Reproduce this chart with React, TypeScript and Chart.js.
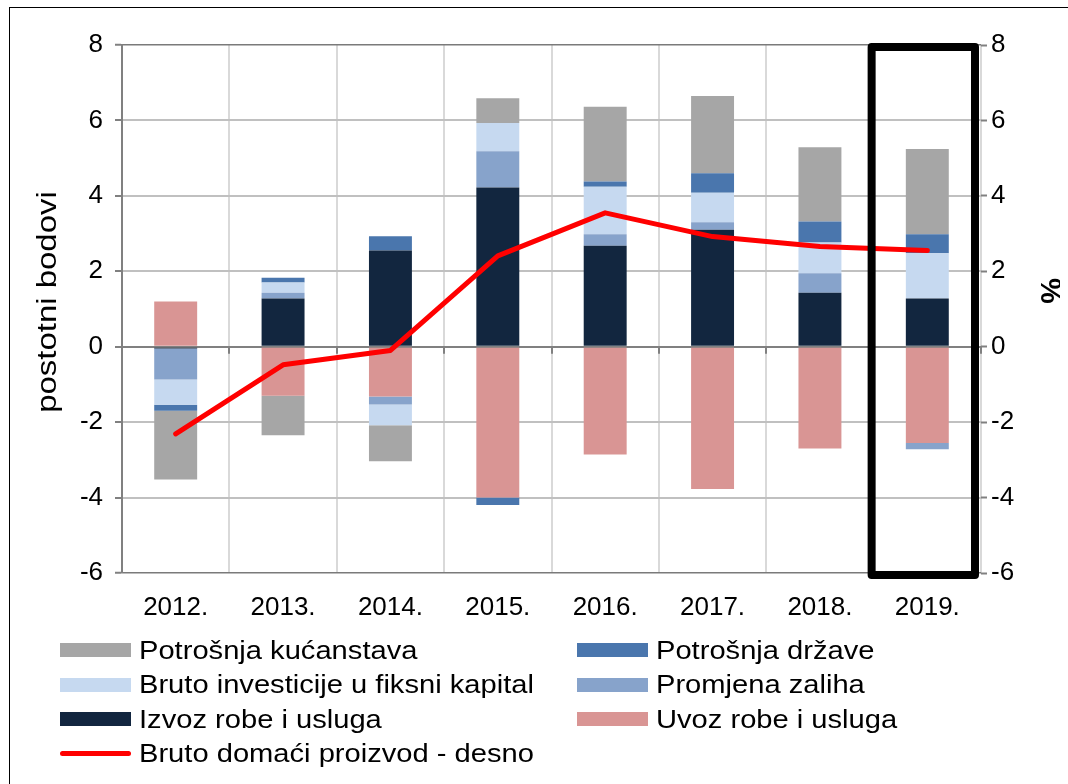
import React, { useEffect, useRef } from "react";
import { Chart, registerables } from "chart.js";

Chart.register(...registerables);

const years = ["2012.", "2013.", "2014.", "2015.", "2016.", "2017.", "2018.", "2019."];
// contributions, in percentage points (stacking order from zero outwards)
const izvoz = [-0.05, 1.28, 2.55, 4.22, 2.68, 3.1, 1.43, 1.28];
const uvoz = [1.2, -1.3, -1.32, -4.0, -2.86, -3.77, -2.7, -2.55];
const zaliha = [-0.82, 0.15, -0.21, 0.96, 0.3, 0.2, 0.52, -0.17];
const investicije = [-0.67, 0.27, -0.55, 0.75, 1.26, 0.78, 0.81, 1.2];
const drzava = [-0.16, 0.13, 0.38, -0.2, 0.14, 0.52, 0.56, 0.5];
const kucanstva = [-1.82, -1.05, -0.96, 0.66, 1.98, 2.05, 1.97, 2.26];
// GDP growth, % (right axis)
const bdp = [-2.31, -0.48, -0.1, 2.41, 3.55, 2.92, 2.66, 2.55];

const yTicks = [-6, -4, -2, 0, 2, 4, 6, 8];
const highlightIndex = 7;
const leftTitle = "postotni bodovi";
const rightTitle = "%";

const FONT = '"Liberation Sans", Arial, sans-serif';

const barSeries = [
  { label: "Izvoz robe i usluga", data: izvoz, color: "#12263f" },
  { label: "Uvoz robe i usluga", data: uvoz, color: "#d99594" },
  { label: "Promjena zaliha", data: zaliha, color: "#87a3cb" },
  { label: "Bruto investicije u fiksni kapital", data: investicije, color: "#c6d9f0" },
  { label: "Potrošnja države", data: drzava, color: "#4a76ad" },
  { label: "Potrošnja kućanstava", data: kucanstva, color: "#a6a6a6" },
];
const lineSeries = { label: "Bruto domaći proizvod - desno", data: bdp, color: "#ff0000" };

const legendOrder = [
  "Potrošnja kućanstava",
  "Potrošnja države",
  "Bruto investicije u fiksni kapital",
  "Promjena zaliha",
  "Izvoz robe i usluga",
  "Uvoz robe i usluga",
  "Bruto domaći proizvod - desno",
];

const overlayPlugin = {
  id: "overlay",
  beforeDatasetsDraw(chart: any) {
    const { ctx, scales } = chart;
    const x = scales.x;
    const y = scales.y;
    const zero = y.getPixelForValue(0);
    const half = (x.getPixelForValue(1) - x.getPixelForValue(0)) / 2;
    ctx.save();
    ctx.strokeStyle = "#808080";
    ctx.lineWidth = 2;
    ctx.beginPath();
    for (let i = 0; i <= years.length; i++) {
      const px = Math.round(x.getPixelForValue(0) - half + i * half * 2);
      ctx.moveTo(px, zero);
      ctx.lineTo(px, zero + 7);
    }
    ctx.stroke();
    ctx.restore();
  },
  afterDraw(chart: any) {
    const { ctx, scales, chartArea } = chart;
    const x = scales.x;
    const half = (x.getPixelForValue(1) - x.getPixelForValue(0)) / 2;
    const cx = x.getPixelForValue(highlightIndex);
    const left = cx - half - 2;
    const right = cx + half - 6;
    ctx.save();
    ctx.strokeStyle = "#000000";
    ctx.lineWidth = 8;
    ctx.lineJoin = "round";
    ctx.strokeRect(left, chartArea.top + 2, right - left, chartArea.bottom - chartArea.top);
    ctx.restore();

    // axis titles
    const midY = (chartArea.top + chartArea.bottom) / 2;
    ctx.save();
    ctx.fillStyle = "#000";
    ctx.textAlign = "center";
    ctx.textBaseline = "middle";
    ctx.font = `27px ${FONT}`;
    ctx.translate(scales.y.left + 41, midY - 7);
    ctx.rotate(-Math.PI / 2);
    ctx.scale(1.22, 1);
    ctx.fillText(leftTitle, 0, 0);
    ctx.restore();

    ctx.save();
    ctx.fillStyle = "#000";
    ctx.textAlign = "center";
    ctx.textBaseline = "middle";
    ctx.font = `bold 29px ${FONT}`;
    ctx.translate(scales.y1.right - 19, midY - 18);
    ctx.rotate(Math.PI / 2);
    ctx.fillText(rightTitle, 0, 0);
    ctx.restore();
  },
};

export default function App() {
  const ref = useRef<HTMLCanvasElement>(null);

  useEffect(() => {
    if (!ref.current) return;
    const datasets: any[] = barSeries.map((s) => ({
      type: "bar",
      label: s.label,
      data: s.data,
      backgroundColor: s.color,
      borderWidth: 0,
      yAxisID: "y",
      stack: "s",
      order: 1,
      barPercentage: 0.4,
      categoryPercentage: 1,
    }));
    datasets.push({
      type: "line",
      label: lineSeries.label,
      data: lineSeries.data,
      borderColor: lineSeries.color,
      backgroundColor: lineSeries.color,
      borderWidth: 5,
      borderCapStyle: "round",
      borderJoinStyle: "round",
      pointRadius: 0,
      tension: 0,
      yAxisID: "y1",
      order: 0,
    });

    const tickFont = { family: FONT, size: 26 };

    const chart = new Chart(ref.current, {
      type: "bar",
      data: { labels: years, datasets },
      plugins: [overlayPlugin],
      options: {
        animation: false,
        responsive: false,
        maintainAspectRatio: false,
        layout: { padding: { top: 37, left: 0, right: 0, bottom: 0 } },
        plugins: { legend: { display: false }, tooltip: { enabled: false } },
        scales: {
          x: {
            stacked: true,
            offset: true,
            grid: { offset: true, color: "#d9d9d9", lineWidth: 2, drawTicks: false },
            border: { display: false },
            ticks: { color: "#000", font: tickFont, padding: 19 },
            afterFit: (s: any) => {
              s.height = 55;
            },
          },
          y: {
            stacked: true,
            position: "left",
            min: -6,
            max: 8,
            afterBuildTicks: (s: any) => {
              s.ticks = yTicks.map((v) => ({ value: v }));
            },
            grid: {
              color: (c: any) =>
                c.tick && c.tick.value === 0
                  ? "#808080"
                  : c.tick && (c.tick.value === 8 || c.tick.value === -6)
                  ? "#7a7a7a"
                  : "#c0c0c0",
              lineWidth: (c: any) =>
                c.tick && (c.tick.value === 8 || c.tick.value === -6) ? 1.5 : 2,
              tickColor: "#808080",
              tickLength: 7,
              tickWidth: 2,
            },
            border: { display: true, color: "#808080", width: 2 },
            ticks: { color: "#000", font: tickFont, padding: 12 },
            title: { display: false },
            afterFit: (s: any) => {
              s.width = 114;
            },
          },
          y1: {
            stacked: false,
            position: "right",
            min: -6,
            max: 8,
            afterBuildTicks: (s: any) => {
              s.ticks = yTicks.map((v) => ({ value: v }));
            },
            grid: {
              drawOnChartArea: false,
              tickColor: "#808080",
              tickLength: 6,
              tickWidth: 2,
            },
            border: { display: false },
            ticks: { color: "#000", font: tickFont, padding: 4 },
            title: { display: false },
            afterFit: (s: any) => {
              s.width = 87;
            },
          },
        },
      } as any,
    });
    return () => chart.destroy();
  }, []);

  const all = [...barSeries, lineSeries];
  const items = legendOrder.map((name) => all.find((s) => s.label === name)!);

  return (
    <div style={{ position: "relative", width: 1060, height: 776, fontFamily: FONT }}>
      <div
        style={{
          position: "fixed",
          left: 9,
          top: 7,
          right: 0,
          bottom: 0,
          borderTop: "1px solid #000",
          borderLeft: "1px solid #000",
          pointerEvents: "none",
        }}
      />
      <canvas ref={ref} width={1060} height={620} style={{ display: "block", width: 1060, height: 620 }} />
      {items.map((s, i) => {
        const col = i % 2;
        const row = Math.floor(i / 2);
        const isLine = s.label === lineSeries.label;
        return (
          <div
            key={s.label}
            style={{
              position: "absolute",
              left: col === 0 ? 52 : 569,
              top: 642 + row * 34.5 - 17,
              height: 34,
              display: "flex",
              alignItems: "center",
              whiteSpace: "nowrap",
            }}
          >
            <span
              style={{
                display: "inline-block",
                width: 71,
                height: isLine ? 5 : 14,
                borderRadius: isLine ? 3 : 0,
                background: s.color,
                marginRight: 8,
              }}
            />
            <span
              style={{
                fontSize: 26,
                color: "#000",
                display: "inline-block",
                transform: "scaleX(1.12)",
                transformOrigin: "left center",
              }}
            >
              {s.label}
            </span>
          </div>
        );
      })}
    </div>
  );
}
